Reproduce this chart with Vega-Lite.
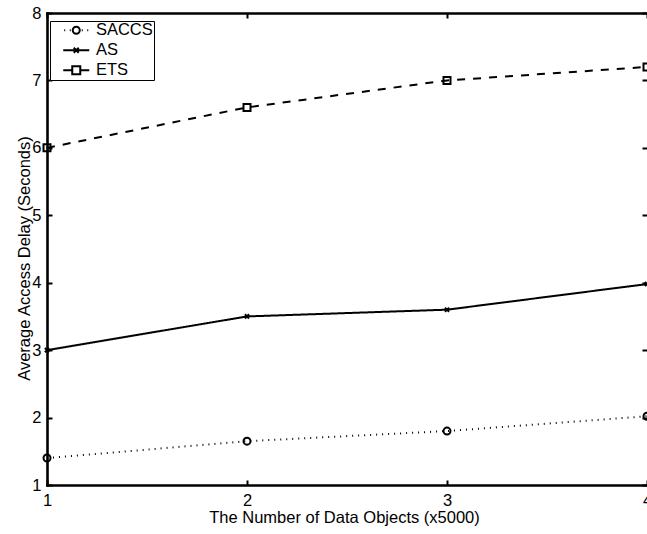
{
  "$schema": "https://vega.github.io/schema/vega-lite/v6.json",
  "width": 600,
  "height": 472,
  "autosize": {"type": "none"},
  "padding": {"left": 47, "top": 13, "right": 0, "bottom": 49},
  "background": "white",
  "config": {
    "view": {"stroke": null},
    "font": "Liberation Sans",
    "axis": {
      "grid": false,
      "domainColor": "black",
      "domainWidth": 2.6,
      "domainCap": "square",
      "tickColor": "black",
      "tickWidth": 2,
      "tickSize": -5,
      "labelColor": "black",
      "labelFont": "Liberation Sans",
      "labelFontSize": 16.5,
      "labelFlush": false,
      "labelOverlap": false,
      "titleColor": "black",
      "titleFont": "Liberation Sans",
      "titleFontSize": 16.5,
      "titleFontWeight": "normal"
    }
  },
  "data": {
    "values": [
      {"objects": 1, "series": "SACCS", "delay": 1.4},
      {"objects": 2, "series": "SACCS", "delay": 1.65},
      {"objects": 3, "series": "SACCS", "delay": 1.8},
      {"objects": 4, "series": "SACCS", "delay": 2.02},
      {"objects": 1, "series": "AS", "delay": 3.0},
      {"objects": 2, "series": "AS", "delay": 3.5},
      {"objects": 3, "series": "AS", "delay": 3.6},
      {"objects": 4, "series": "AS", "delay": 3.98},
      {"objects": 1, "series": "ETS", "delay": 6.0},
      {"objects": 2, "series": "ETS", "delay": 6.6},
      {"objects": 3, "series": "ETS", "delay": 7.0},
      {"objects": 4, "series": "ETS", "delay": 7.2}
    ]
  },
  "layer": [
    {
      "mark": {"type": "line", "color": "black", "strokeWidth": 2, "strokeCap": "butt"},
      "encoding": {
        "x": {
          "field": "objects", "type": "quantitative",
          "scale": {"domain": [1, 4], "nice": false, "zero": false},
          "axis": {
            "orient": "bottom", "values": [1, 2, 3, 4], "format": "d",
            "labelPadding": 12,
            "title": "The Number of Data Objects (x5000)",
            "titleX": 297, "titleY": 37, "titleBaseline": "alphabetic"
          }
        },
        "y": {
          "field": "delay", "type": "quantitative",
          "scale": {"domain": [1, 8], "nice": false, "zero": false},
          "axis": {
            "orient": "left", "values": [1, 2, 3, 4, 5, 6, 7, 8], "format": "d",
            "labelPadding": 11,
            "title": "Average Access Delay (Seconds)",
            "titleX": -18, "titleY": 245, "titleBaseline": "alphabetic"
          }
        },
        "strokeDash": {
          "field": "series", "type": "nominal",
          "scale": {"domain": ["SACCS", "AS", "ETS"], "range": [[1, 5], [1, 0], [8, 8]]},
          "legend": null
        }
      }
    },
    {
      "mark": {"type": "point", "filled": false, "color": "black", "strokeWidth": 2, "size": 49, "opacity": 1},
      "encoding": {
        "x": {
          "field": "objects", "type": "quantitative",
          "axis": {"orient": "top", "values": [1, 2, 3, 4], "labels": false, "title": null}
        },
        "y": {
          "field": "delay", "type": "quantitative",
          "axis": {"orient": "right", "values": [1, 2, 3, 4, 5, 6, 7, 8], "labels": false, "title": null, "domain": false}
        },
        "shape": {
          "field": "series", "type": "nominal",
          "scale": {
            "domain": ["SACCS", "AS", "ETS"],
            "range": ["circle", "M-0.6,-0.6L0.6,0.6M-0.6,0.6L0.6,-0.6", "square"]
          },
          "legend": null
        }
      }
    },
    {
      "mark": {"type": "point", "filled": false, "color": "black", "strokeWidth": 2, "size": 4, "opacity": 0},
      "encoding": {
        "x": {"field": "objects", "type": "quantitative", "axis": null},
        "y": {"field": "delay", "type": "quantitative", "axis": null},
        "shape": {
          "field": "series", "type": "nominal",
          "scale": {
            "domain": ["SACCS", "AS", "ETS"],
            "range": [
              "M-12,0h1M-6.5,0h1M5.5,0h1M11,0h1M3.5,0A3.5,3.5,0,1,1,-3.5,0A3.5,3.5,0,1,1,3.5,0ZM-23,0M66,0",
              "M-13,0H13M-2.5,-2.5L2.5,2.5M-2.5,2.5L2.5,-2.5M-23,0M66,0",
              "M-13,0H-4M4,0H13M-4,-4H4V4H-4ZM-23,0M66,0"
            ]
          },
          "legend": {
            "orient": "none", "legendX": 3, "legendY": 8,
            "title": null,
            "padding": 1,
            "strokeColor": "black",
            "fillColor": "white",
            "cornerRadius": 0,
            "symbolSize": 4,
            "symbolStrokeWidth": 2,
            "symbolStrokeColor": "black",
            "symbolFillColor": "white",
            "symbolOpacity": 1,
            "symbolOffset": 17,
            "labelOffset": 11.4,
            "labelFont": "Liberation Sans",
            "labelFontSize": 16.5,
            "labelColor": "black",
            "rowPadding": 3
          }
        }
      }
    }
  ],
  "resolve": {
    "axis": {"x": "independent", "y": "independent"},
    "scale": {"shape": "independent"}
  }
}
